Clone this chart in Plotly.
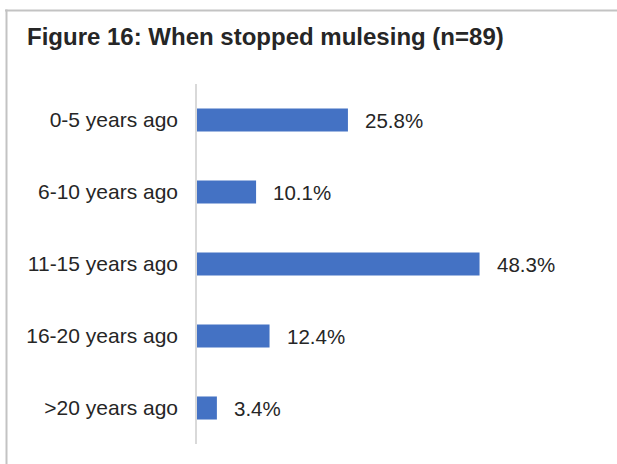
import plotly.graph_objects as go

categories = ["0-5 years ago", "6-10 years ago", "11-15 years ago", "16-20 years ago", ">20 years ago"]
values = [25.8, 10.1, 48.3, 12.4, 3.4]
value_labels = ["25.8%", "10.1%", "48.3%", "12.4%", "3.4%"]
title_text = "Figure 16: When stopped mulesing (n=89)"

W, H = 617, 464
ml, mr, mt, mb = 197, 17, 84, 20
pw = W - ml - mr
ph = H - mt - mb
FONT = "Liberation Sans, Arial, sans-serif"

fig = go.Figure(go.Bar(
    x=values, y=categories, orientation="h",
    marker=dict(color="#4472C4", line=dict(width=0)),
    hoverinfo="skip",
))

for v, c, t in zip(values, categories, value_labels):
    fig.add_annotation(x=v, y=c, text=t, showarrow=False, xanchor="left",
                       xshift=15, font=dict(size=20.5, color="#262626", family=FONT))

def px_x(p):
    return (p - ml) / pw

def px_y(p):
    return (H - mb - p) / ph

line_col = "#c3c3c3"
fig.add_shape(type="line", xref="paper", yref="paper",
              x0=px_x(5), x1=px_x(W + 5), y0=px_y(10.5), y1=px_y(10.5),
              line=dict(color=line_col, width=2))
fig.add_shape(type="line", xref="paper", yref="paper",
              x0=px_x(6.5), x1=px_x(6.5), y0=px_y(9.5), y1=px_y(H + 5),
              line=dict(color=line_col, width=2))

fig.update_layout(
    width=W, height=H,
    margin=dict(l=ml, r=mr, t=mt, b=mb, pad=0),
    paper_bgcolor="white", plot_bgcolor="white",
    bargap=0.68,
    showlegend=False,
    font=dict(family=FONT, size=21, color="#262626"),
    title=dict(text="<b>" + title_text + "</b>", xref="container", yref="container",
               x=27 / W, xanchor="left", y=1 - 37 / H, yanchor="middle",
               font=dict(size=24, color="#262626", family=FONT)),
    xaxis=dict(range=[0, pw / 5.85], visible=False, fixedrange=True),
    yaxis=dict(autorange="reversed", showline=True, linecolor="#d9d9d9", linewidth=1.5,
               ticks="", ticklabelstandoff=13, showgrid=False, zeroline=False,
               tickfont=dict(size=21, color="#262626"), fixedrange=True),
)

fig.write_html("out.html", config={"displayModeBar": False},
               post_script="document.body.style.margin='0';document.body.style.overflow='hidden';")
